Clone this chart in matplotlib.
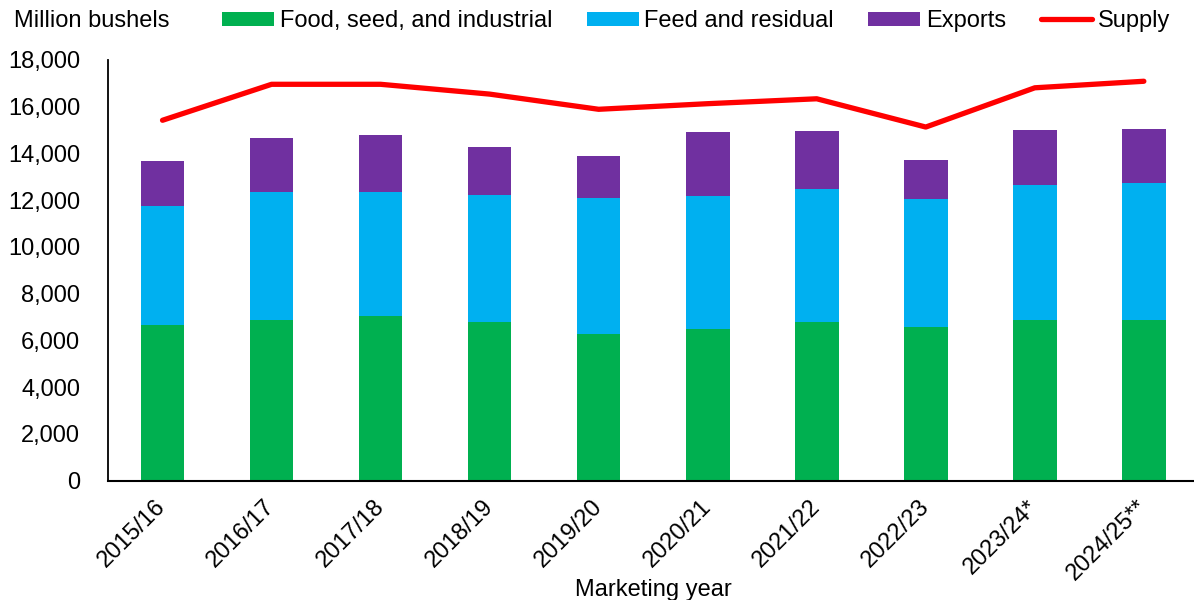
import matplotlib
matplotlib.use("Agg")
import matplotlib.pyplot as plt
import numpy as np
from matplotlib.ticker import FuncFormatter

plt.rcParams['font.family'] = ['Liberation Sans', 'DejaVu Sans']

years = ["2015/16", "2016/17", "2017/18", "2018/19", "2019/20",
         "2020/21", "2021/22", "2022/23", "2023/24*", "2024/25**"]
fsi = [6650, 6885, 7055, 6795, 6290, 6470, 6765, 6560, 6870, 6850]
feed = [5115, 5470, 5305, 5430, 5820, 5700, 5720, 5510, 5800, 5870]
exports = [1900, 2295, 2440, 2065, 1780, 2750, 2470, 1665, 2320, 2320]
supply = [15420, 16960, 16960, 16540, 15890, 16130, 16340, 15130, 16810, 17090]

c_green = "#00B050"
c_blue = "#00B0F0"
c_purple = "#7030A0"
c_red = "#FF0000"

FS = 17

W, H = 1194, 600
fig = plt.figure(figsize=(W / 100, H / 100), dpi=100)
ax = fig.add_axes([108 / W, 1 - 480.5 / H, 1 - 108 / W, (480.5 - 60) / H])

x = np.arange(len(years))
bw = 0.4
fsi_a = np.array(fsi)
feed_a = np.array(feed)
b1 = ax.bar(x, fsi, bw, color=c_green, label="Food, seed, and industrial", zorder=2)
b2 = ax.bar(x, feed, bw, bottom=fsi_a, color=c_blue, label="Feed and residual", zorder=2)
b3 = ax.bar(x, exports, bw, bottom=fsi_a + feed_a, color=c_purple, label="Exports", zorder=2)
l1, = ax.plot(x, supply, color=c_red, lw=3.8, solid_capstyle='round', solid_joinstyle='round',
              label="Supply", zorder=3)

ax.set_xlim(-0.5, 9.46)
ax.set_ylim(0, 18000)
ax.set_yticks(np.arange(0, 18001, 2000))
ax.yaxis.set_major_formatter(FuncFormatter(lambda v, p: f"{int(v):,}"))
ax.tick_params(axis='y', length=0, pad=20, labelsize=FS)
ax.tick_params(axis='x', length=0, pad=6, labelsize=FS)
ax.set_xticks(x)
ax.set_xticklabels(years, rotation=45, ha='right', va='center', rotation_mode='anchor')
for lbl in ax.get_xticklabels():
    lbl.set_y(-0.035)

for s in ['top', 'right']:
    ax.spines[s].set_visible(False)
ax.spines['left'].set_linewidth(1.3)
ax.spines['bottom'].set_linewidth(1.5)
ax.spines['left'].set_color('black')
ax.spines['bottom'].set_color('black')

fig.text((108 + 1198) / 2 / W, 1 - 590 / H, "Marketing year", fontsize=FS,
         ha='center', va='center')

fig.text(14 / W, 1 - 21 / H, "Million bushels", fontsize=FS, ha='left', va='center')

leg = fig.legend([b1, b2, b3, l1],
                 ["Food, seed, and industrial", "Feed and residual", "Exports", "Supply"],
                 loc='center left', bbox_to_anchor=(222 / W, 1 - 21 / H), ncol=4,
                 frameon=False, fontsize=FS, handlelength=2.2, handleheight=0.55,
                 handletextpad=0.25, columnspacing=1.45, borderpad=0, borderaxespad=0)

fig.savefig("out.png", dpi=100)
